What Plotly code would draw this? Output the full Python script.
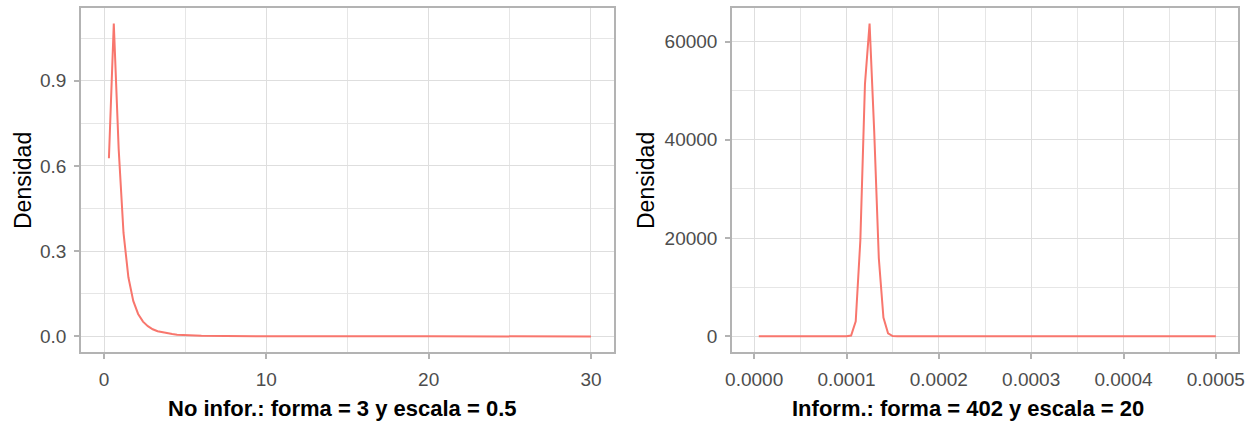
import plotly.graph_objects as go

# ---- data ----
x_noinf = [0.3, 0.6, 0.9, 1.2, 1.5, 1.8, 2.1, 2.4, 2.7, 3.0, 3.3, 3.6, 3.9, 4.2, 4.5,
           4.8, 5.1, 5.4, 6.0, 7.5, 9.0, 12.0, 15.0, 20.0, 25.0, 30.0]
y_noinf = [0.627, 1.101, 0.661, 0.364, 0.208, 0.125, 0.079, 0.052, 0.036, 0.025, 0.018,
           0.014, 0.010, 0.008, 0.006, 0.005, 0.004, 0.003, 0.002, 0.001, 0.0005, 0.0002,
           0.0001, 0.00002, 0.00001, 0.000004]

x_inf = [0.000005, 0.00005, 0.0001, 0.000105, 0.00011, 0.000115, 0.00012, 0.000125,
         0.00013, 0.000135, 0.00014, 0.000145, 0.00015, 0.000155, 0.00016, 0.0003, 0.0005]
y_inf = [0, 0, 3, 170, 3080, 19560, 51330, 63650, 41770, 15930, 3810, 610, 70, 6, 0, 0, 0]

left_xticks = [0, 10, 20, 30]
left_xlabels = ["0", "10", "20", "30"]
left_yticks = [0, 0.3, 0.6, 0.9]
left_ylabels = ["0.0", "0.3", "0.6", "0.9"]
right_xticks = [0, 0.0001, 0.0002, 0.0003, 0.0004, 0.0005]
right_xlabels = ["0.0000", "0.0001", "0.0002", "0.0003", "0.0004", "0.0005"]
right_yticks = [0, 20000, 40000, 60000]
right_ylabels = ["0", "20000", "40000", "60000"]

title_left = "No infor.: forma = 3 y escala = 0.5"
title_right = "Inform.: forma = 402 y escala = 20"
ylab = "Densidad"

# ---- styling ----
FONT = "Liberation Sans, Arial, Helvetica, sans-serif"
LINE = "#F8766D"
BORDER = "#B3B3B3"
GRID = "#DEDEDE"
TICKFONT = dict(family=FONT, size=19, color="#4D4D4D")

W, H = 1256, 421
ydom = [(H - 352) / H, (H - 8) / H]
xdom1 = [81 / W, 614 / W]
xdom2 = [732 / W, 1238 / W]

fig = go.Figure()
fig.add_trace(go.Scatter(x=x_noinf, y=y_noinf, mode="lines",
                         line=dict(color=LINE, width=2), xaxis="x", yaxis="y",
                         showlegend=False))
fig.add_trace(go.Scatter(x=x_inf, y=y_inf, mode="lines",
                         line=dict(color=LINE, width=2), xaxis="x2", yaxis="y2",
                         showlegend=False))


def ax(domain, rng, tickvals, ticktext, minor_vals, anchor):
    return dict(domain=domain, range=rng, tickmode="array", tickvals=tickvals,
                ticktext=ticktext, ticks="outside", ticklen=5, tickwidth=1.5,
                tickcolor=BORDER, tickfont=TICKFONT, ticklabelstandoff=4,
                showgrid=True, gridcolor=GRID, gridwidth=1.1, zeroline=False,
                showline=True, linecolor=BORDER, linewidth=1.5, mirror=True,
                anchor=anchor, automargin=False,
                minor=dict(tickvals=minor_vals, showgrid=True, gridcolor="#E6E6E6",
                           gridwidth=0.6, ticks=""))


fig.update_layout(
    width=W, height=H, margin=dict(l=0, r=0, t=0, b=0),
    paper_bgcolor="white", plot_bgcolor="white",
    font=dict(family=FONT),
    xaxis=ax(xdom1, [-1.42, 31.42], left_xticks, left_xlabels, [5, 15, 25], "y"),
    yaxis=ax(ydom, [-0.055, 1.156], left_yticks, left_ylabels, [0.15, 0.45, 0.75, 1.05], "x"),
    xaxis2=ax(xdom2, [-0.000024, 0.000524], right_xticks, right_xlabels,
              [0.00005, 0.00015, 0.00025, 0.00035, 0.00045], "y2"),
    yaxis2=ax(ydom, [-3182.5, 66832.5], right_yticks, right_ylabels,
              [10000, 30000, 50000], "x2"),
)

ann_font_b = dict(family=FONT, size=22, color="black")
fig.add_annotation(x=342 / W, y=(H - 408) / H, xref="paper", yref="paper",
                   text="<b>" + title_left + "</b>", showarrow=False, font=ann_font_b,
                   xanchor="center", yanchor="middle")
fig.add_annotation(x=968 / W, y=(H - 408) / H, xref="paper", yref="paper",
                   text="<b>" + title_right + "</b>", showarrow=False, font=ann_font_b,
                   xanchor="center", yanchor="middle")
ann_font = dict(family=FONT, size=23, color="black")
fig.add_annotation(x=23 / W, y=(H - 181) / H, xref="paper", yref="paper",
                   text=ylab, textangle=-90, showarrow=False, font=ann_font,
                   xanchor="center", yanchor="middle")
fig.add_annotation(x=646 / W, y=(H - 181) / H, xref="paper", yref="paper",
                   text=ylab, textangle=-90, showarrow=False, font=ann_font,
                   xanchor="center", yanchor="middle")

fig.write_html("out.html")
